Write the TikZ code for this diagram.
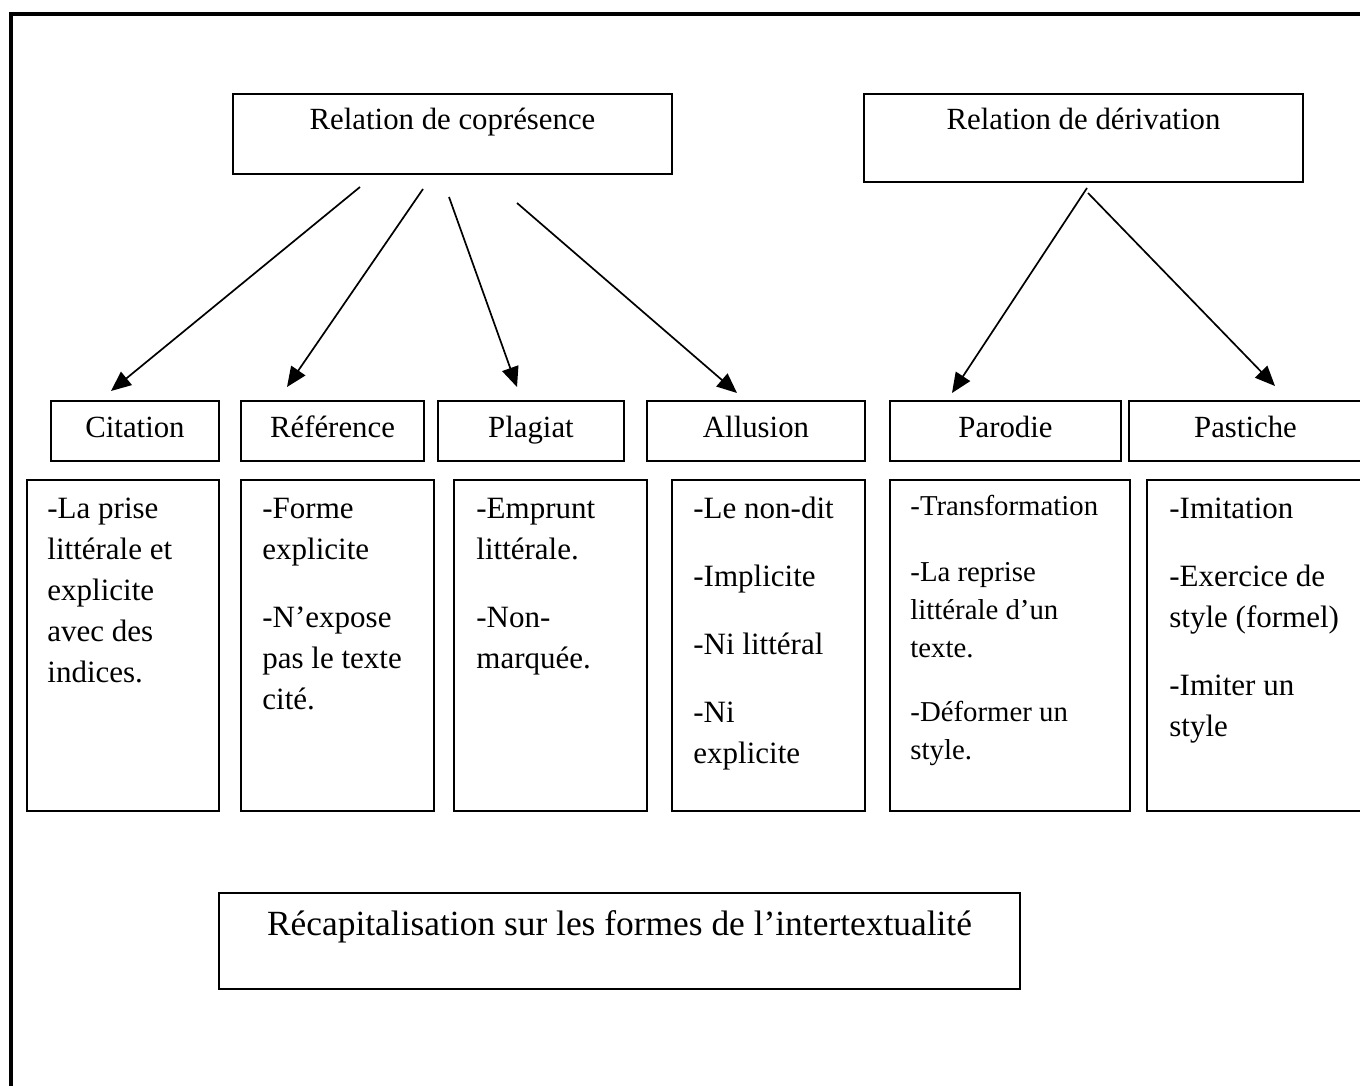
\documentclass[tikz,border=0pt]{standalone}
\usepackage{fontspec}
\setmainfont{Liberation Serif}
\usetikzlibrary{arrows.meta,fit}
\begin{document}
\begin{tikzpicture}[x=0.5pt,y=-0.5pt,
  box/.style={draw, line width=1pt, inner sep=0pt, rectangle},
  lbl/.style={anchor=base, inner sep=0pt, font=\fontsize{15.4}{20.5}\selectfont},
  body/.style={anchor=base west, inner sep=0pt, text width=120pt, align=flush left, font=\fontsize{15.5}{20.5}\selectfont},
  bodysm/.style={anchor=base west, inner sep=0pt, text width=120pt, align=flush left, font=\fontsize{14.4}{19}\selectfont},
  arr/.style={-{Triangle[length=10pt,width=8.5pt]}, line width=0.85pt}]
\useasboundingbox (0,0) rectangle (1360,1086);
% outer frame
\draw[line width=2pt] (11,1100) -- (11,14.5) -- (1370,14.5);
% top boxes
\node[box, fit={(233,94)(672,174)}] (cop) {};
\node[lbl] (copt) at (452.5,130) {Relation de coprésence};
\node[box, fit={(864,94)(1303,182)}] (der) {};
\node[lbl] (dert) at (1083.5,130) {Relation de dérivation};
% small boxes
\node[box, fit={(51,401)(219,461)}] (cit) {};
\node[lbl] (citt) at (135,437) {Citation};
\node[box, fit={(241,401)(424,461)}] (ref) {};
\node[lbl] (reft) at (332.5,437) {Référence};
\node[box, fit={(438,401)(624,461)}] (pla) {};
\node[lbl] (plat) at (531,437) {Plagiat};
\node[box, fit={(647,401)(865,461)}] (all) {};
\node[lbl] (allt) at (756,437) {Allusion};
\node[box, fit={(890,401)(1121,461)}] (par) {};
\node[lbl] (part) at (1005.5,437) {Parodie};
\node[box, fit={(1129,401)(1362,461)}] (pas) {};
\node[lbl] (past) at (1245.5,437) {Pastiche};
% big boxes
\node[box, fit={(27,480)(219,811)}] (citb) {};
\node[body] (citx) at (47,518) {-La prise\\littérale et\\explicite\\avec des\\indices.};
\node[box, fit={(241,480)(434,811)}] (refb) {};
\node[body] (refx) at (262,518) {-Forme\\explicite\\[13.5pt]-N’expose\\pas le texte\\cité.};
\node[box, fit={(454,480)(647,811)}] (plab) {};
\node[body] (plax) at (476,518) {-Emprunt\\littérale.\\[13.5pt]-Non-\\marquée.};
\node[box, fit={(672,480)(865,811)}] (allb) {};
\node[body] (allx) at (693,518) {-Le non-dit\\[13.5pt]-Implicite\\[13.5pt]-Ni littéral\\[13.5pt]-Ni\\explicite};
\node[box, fit={(890,480)(1130,811)}] (parb) {};
\node[bodysm] (parx) at (910,515) {-Transformation\\[14pt]-La reprise\\littérale d’un\\texte.\\[13pt]-Déformer un\\style.};
\node[box, fit={(1147,480)(1364,811)}] (pasb) {};
\node[body] (pasx) at (1169,518) {-Imitation\\[13.5pt]-Exercice de\\style (formel)\\[13.5pt]-Imiter un\\style};
% bottom box
\node[box, fit={(219,893)(1020,989)}] (rec) {};
\node[anchor=base, inner sep=0pt, font=\fontsize{17.7}{22}\selectfont] (rect) at (619.5,935) {Récapitalisation sur les formes de l’intertextualité};
% arrow coordinates
\coordinate (s1) at (360,187); \coordinate (e1) at (111,391);
\coordinate (s2) at (423,189); \coordinate (e2) at (287,387);
\coordinate (s3) at (449,197); \coordinate (e3) at (517,387);
\coordinate (s4) at (517,203); \coordinate (e4) at (737,393);
\coordinate (s5) at (1087,188); \coordinate (e5) at (952,393);
\coordinate (s6) at (1088,193); \coordinate (e6) at (1275,386);
\draw[arr] (s1) -- (e1);
\draw[arr] (s2) -- (e2);
\draw[arr] (s3) -- (e3);
\draw[arr] (s4) -- (e4);
\draw[arr] (s5) -- (e5);
\draw[arr] (s6) -- (e6);
\end{tikzpicture}
\end{document}
